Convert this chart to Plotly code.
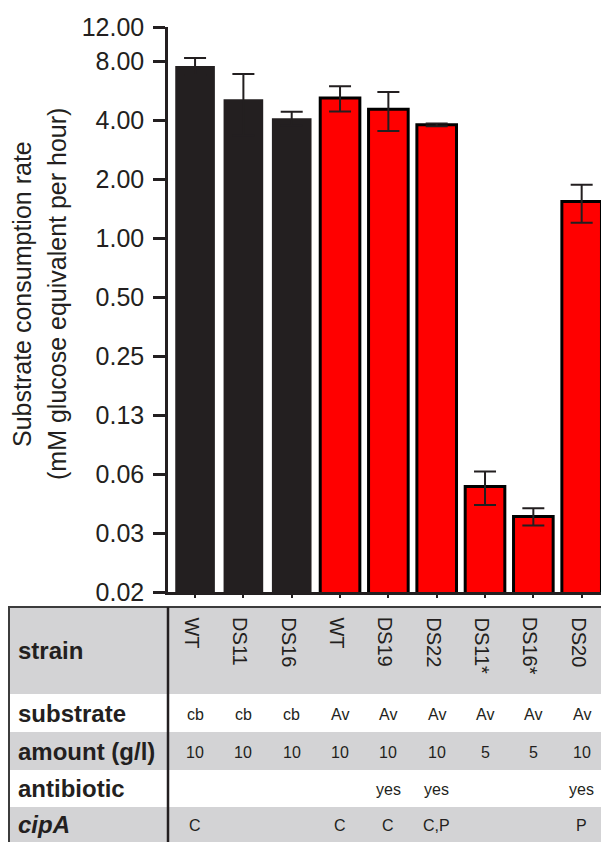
import math
import plotly.graph_objects as go

# ---------------- data ----------------
strains = ["WT", "DS11", "DS16", "WT", "DS19", "DS22", "DS11*", "DS16*", "DS20"]
substrate = ["cb", "cb", "cb", "Av", "Av", "Av", "Av", "Av", "Av"]
amount = ["10", "10", "10", "10", "10", "10", "5", "5", "10"]
antibiotic = ["", "", "", "", "yes", "yes", "", "", "yes"]
cipA = ["C", "", "", "C", "C", "C,P", "", "", "P"]
rate = [7.58, 5.13, 4.10, 5.21, 4.56, 3.80, 0.054, 0.038, 1.54]
rate_err = [0.75, 1.78, 0.33, 0.77, 1.03, 0.06, 0.0105, 0.0038, 0.34]

tick_vals = [1 / 64, 1 / 32, 1 / 16, 1 / 8, 1 / 4, 1 / 2, 1, 2, 4, 8, 12]
tick_text = ["0.02", "0.03", "0.06", "0.13", "0.25", "0.50", "1.00", "2.00", "4.00", "8.00", "12.00"]

# ---------------- layout constants ----------------
W, H = 601, 842
ML, MR, MT, MB = 168, 0, 27, 250
PW, PH = W - ML - MR, H - MT - MB
FONT = "Liberation Sans, Arial, Helvetica, sans-serif"
DARK = "#231f20"
GRAY = "#d3d3d5"


def xp(px):
    return (px - ML) / PW


def yp(py):
    return (MT + PH - py) / PH


xs = list(range(len(strains)))
fill = [DARK if s == "cb" else "#ff0000" for s in substrate]
lw = [0 if s == "cb" else 3 for s in substrate]

fig = go.Figure()
fig.add_trace(go.Bar(
    x=xs, y=rate, width=0.82,
    marker=dict(color=fill, line=dict(color="#000000", width=lw)),
    error_y=dict(type="data", array=rate_err, color=DARK, thickness=2, width=11),
    showlegend=False,
))

shapes = []
annotations = []

# table rows (top, bottom, label, values, gray?)
rows = [
    (607, 694, "<b>strain</b>", None, True),
    (694, 732, "<b>substrate</b>", substrate, False),
    (732, 770, "<b>amount (g/l)</b>", amount, True),
    (770, 807, "<b>antibiotic</b>", antibiotic, False),
    (807, 842, "<b><i>cipA</i></b>", cipA, True),
]
for top, bot, label, vals, gray in rows:
    if gray:
        shapes.append(dict(type="rect", xref="paper", yref="paper",
                           x0=xp(9), x1=xp(W + 5), y0=yp(bot), y1=yp(top),
                           fillcolor=GRAY, line=dict(width=0), layer="below"))
    cy = (top + bot) / 2
    annotations.append(dict(xref="paper", yref="paper", x=xp(16), y=yp(cy),
                            xanchor="left", yanchor="middle", text=label, showarrow=False,
                            font=dict(family=FONT, size=24, color=DARK)))
    if vals is not None:
        for i, v in enumerate(vals):
            if v:
                annotations.append(dict(xref="x", yref="paper", x=xs[i], y=yp(cy + 1),
                                        xanchor="center", yanchor="middle", text=v,
                                        showarrow=False,
                                        font=dict(family=FONT, size=16, color=DARK)))

for i, s in enumerate(strains):
    annotations.append(dict(xref="x", yref="paper", x=xs[i], y=yp(615), xshift=-3,
                            xanchor="center", yanchor="top", text=s, textangle=90,
                            showarrow=False, font=dict(family=FONT, size=20, color=DARK)))

# table lines
shapes.append(dict(type="line", xref="paper", yref="paper", x0=xp(8), x1=xp(W + 5),
                   y0=yp(607), y1=yp(607), line=dict(color="#3c3c3c", width=2)))
shapes.append(dict(type="line", xref="paper", yref="paper", x0=xp(9), x1=xp(9),
                   y0=yp(607), y1=yp(H + 5), line=dict(color="#3c3c3c", width=2)))
shapes.append(dict(type="line", xref="paper", yref="paper", x0=xp(168), x1=xp(168),
                   y0=yp(607), y1=yp(H + 5), line=dict(color=DARK, width=2.5)))

# y-axis title (two lines)
annotations.append(dict(xref="paper", yref="paper", x=xp(22), y=yp(294),
                        xanchor="center", yanchor="middle", textangle=-90,
                        text="Substrate consumption rate", showarrow=False,
                        font=dict(family=FONT, size=25, color=DARK)))
annotations.append(dict(xref="paper", yref="paper", x=xp(57), y=yp(294),
                        xanchor="center", yanchor="middle", textangle=-90,
                        text="(mM glucose equivalent per hour)", showarrow=False,
                        font=dict(family=FONT, size=25, color=DARK)))

fig.update_layout(
    width=W, height=H,
    margin=dict(l=ML, r=MR, t=MT, b=MB, pad=0),
    paper_bgcolor="white", plot_bgcolor="white",
    font=dict(family=FONT, color=DARK),
    shapes=shapes, annotations=annotations,
    bargap=0.18,
)
fig.update_xaxes(range=[-0.56, 8.4], showgrid=False, zeroline=False,
                 showline=True, linecolor=DARK, linewidth=2.5,
                 ticks="outside", ticklen=3, tickwidth=1.5, tickcolor=DARK,
                 tickvals=xs, showticklabels=False)
fig.update_yaxes(type="log", range=[math.log10(1 / 64), math.log10(12)],
                 showgrid=False, zeroline=False,
                 showline=True, linecolor=DARK, linewidth=2.5,
                 ticks="outside", ticklen=12, tickwidth=2.5, tickcolor=DARK,
                 tickvals=tick_vals, ticktext=tick_text, ticklabelstandoff=4,
                 tickfont=dict(family=FONT, size=25, color=DARK))

fig.write_html("out.html")
